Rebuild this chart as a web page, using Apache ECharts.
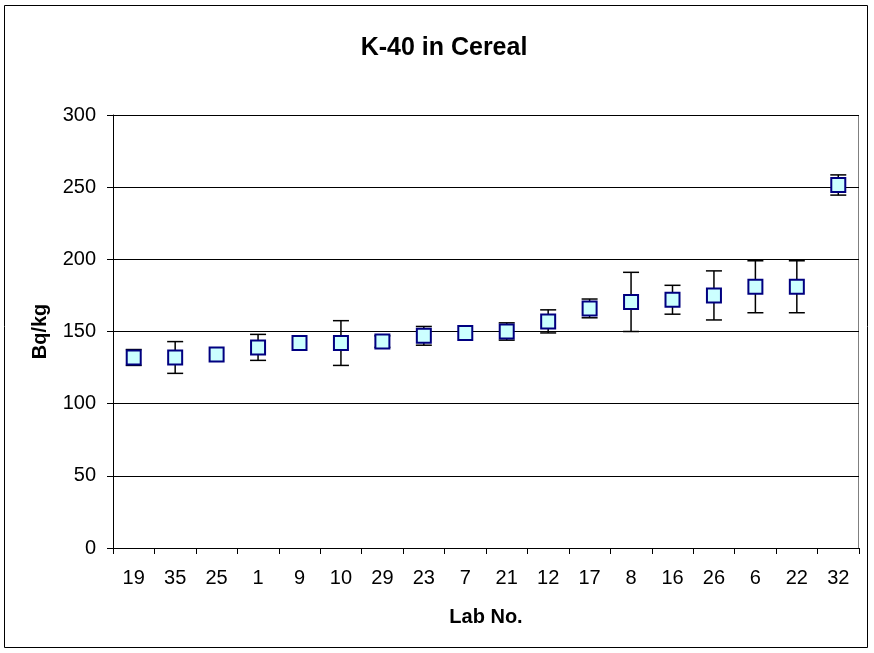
<!DOCTYPE html>
<html>
<head>
<meta charset="utf-8">
<script src="https://cdn.jsdelivr.net/npm/echarts@6/dist/echarts.min.js"></script>
<style>html,body{margin:0;padding:0;background:#fff}#c{width:874px;height:653px}</style>
</head>
<body>
<div id="c"></div>
<script>
const labs = ['19','35','25','1','9','10','29','23','7','21','12','17','8','16','26','6','22','32'];
const values = [132,132,134,139,142,142,143,147,149,150,157,166,170.5,172,175,181,181,251.5];
const errors = [5.5,11,0,9,0,15.5,4,6.5,0,6,8,6.5,20.5,10,17,18,18,7];
const yTicks = [0,50,100,150,200,250,300];

const errData = labs.map((l,i)=>[i, values[i]-errors[i], values[i]+errors[i], errors[i]]);
const chart = echarts.init(document.getElementById('c'));
const font = '"Liberation Sans", Arial, sans-serif';
chart.setOption({
  animation:false,
  backgroundColor:'#fff',
  title:{text:'K-40 in Cereal',left:439,top:31,textAlign:'center',
    textStyle:{fontFamily:font,fontSize:25,fontWeight:'bold',color:'#000'}},
  graphic:[{type:'rect',shape:{x:4.5,y:5.5,width:863,height:642},style:{fill:'none',stroke:'#000',lineWidth:1}},
           {type:'rect',shape:{x:113.5,y:115.5,width:745,height:433},style:{fill:'none',stroke:'#808080',lineWidth:1},z:0}],
  grid:{left:113,right:15,top:115,bottom:105},
  xAxis:{type:'category',data:labs,boundaryGap:true,
    name:'Lab No.',nameLocation:'middle',nameGap:59,
    nameTextStyle:{fontFamily:font,fontSize:20,fontWeight:'bold',color:'#000'},
    axisLine:{lineStyle:{color:'#000',width:1}},
    axisTick:{show:true,alignWithLabel:false,length:6,lineStyle:{color:'#000'}},
    axisLabel:{fontFamily:font,fontSize:20,color:'#000',margin:20,interval:0},
    splitLine:{show:false}},
  yAxis:{type:'value',min:yTicks[0],max:yTicks[yTicks.length-1],interval:50,
    name:'Bq/kg',nameLocation:'middle',nameGap:63,nameRotate:90,
    nameTextStyle:{fontFamily:font,fontSize:20,fontWeight:'bold',color:'#000'},
    axisLine:{show:true,lineStyle:{color:'#000',width:1}},
    axisTick:{show:true,length:6,lineStyle:{color:'#000'}},
    axisLabel:{fontFamily:font,fontSize:20,color:'#000',margin:17},
    splitLine:{show:true,lineStyle:{color:'#000',width:1}}},
  series:[
    {type:'custom',data:errData,z:3,
     encode:{x:0,y:[1,2]},
     renderItem:function(params,api){
       const i=api.value(0), lo=api.value(1), hi=api.value(2), e=api.value(3);
       if(!e) return null;
       const pl=api.coord([i,lo]), ph=api.coord([i,hi]);
       const w=8, st={stroke:'#000',lineWidth:1.5};
       return {type:'group',children:[
         {type:'line',shape:{x1:pl[0],y1:pl[1],x2:ph[0],y2:ph[1]},style:st},
         {type:'line',shape:{x1:pl[0]-w,y1:pl[1],x2:pl[0]+w,y2:pl[1]},style:st},
         {type:'line',shape:{x1:ph[0]-w,y1:ph[1],x2:ph[0]+w,y2:ph[1]},style:st}
       ]};
     }},
    {type:'scatter',data:values,symbol:'rect',symbolSize:14,z:5,
     itemStyle:{color:'#CCFFFF',borderColor:'#000080',borderWidth:2,opacity:1}}
  ]
});
</script>
</body>
</html>
